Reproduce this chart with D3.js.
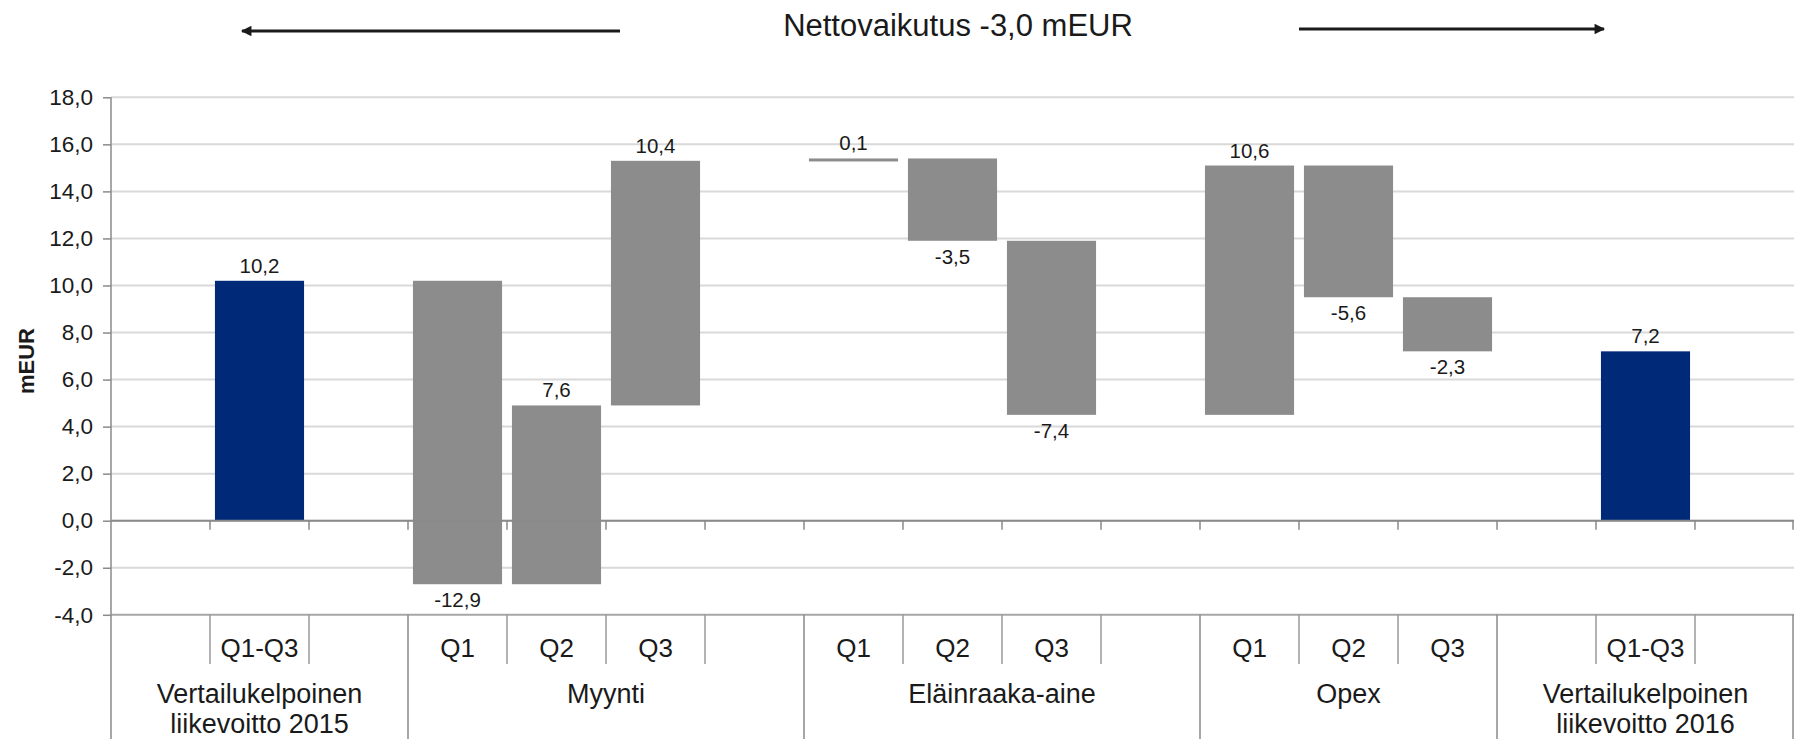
<!DOCTYPE html>
<html>
<head>
<meta charset="utf-8">
<script src="https://cdn.jsdelivr.net/npm/d3@7"></script>
<style>
  body { margin: 0; background: #ffffff; }
  text { font-family: "Liberation Sans", Arial, sans-serif; fill: #1a1a1a; }
</style>
</head>
<body>
<svg id="chart" width="1795" height="739"></svg>
<script>
// waterfall data, one entry per category slot
var groupNames = ["Vertailukelpoinen|liikevoitto 2015", "Myynti", "Eläinraaka-aine", "Opex", "Vertailukelpoinen|liikevoitto 2016"];
var quarterLabels = [
  ["", "Q1-Q3", ""],
  ["Q1", "Q2", "Q3", ""],
  ["Q1", "Q2", "Q3", ""],
  ["Q1", "Q2", "Q3"],
  ["", "Q1-Q3", ""]
];
var barValues = [null, 10.2, null, -12.9, 7.6, 10.4, null, 0.1, -3.5, -7.4, null, 10.6, -5.6, -2.3, null, 7.2, null];
var barTypes  = [null, "total", null, "delta", "delta", "delta", null, "delta", "delta", "delta", null, "delta", "delta", "delta", null, "total", null];
var yTicks = [-4, -2, 0, 2, 4, 6, 8, 10, 12, 14, 16, 18];
var title = "Nettovaikutus -3,0 mEUR";

(function() {
  var svg = d3.select("#chart");
  var plotL = 111, plotR = 1794, plotT = 97.3, plotB = 614.8;

  var fmt = function(v) { return d3.format(".1f")(v).replace("\u2212", "-").replace(".", ","); };

  // build slot keys from the groups
  var slots = [];
  quarterLabels.forEach(function(g, gi) {
    g.forEach(function(q, qi) { slots.push({ key: gi + "-" + qi, group: gi, label: q }); });
  });

  var x = d3.scaleBand().domain(slots.map(function(s) { return s.key; })).range([plotL, plotR]).padding(0);
  var y = d3.scaleLinear().domain([-4, 18]).range([plotB, plotT]);
  var bw = x.bandwidth();

  // gridlines
  svg.append("g").selectAll("line").data(yTicks).enter().append("line")
      .attr("x1", plotL).attr("x2", plotR)
      .attr("y1", function(d) { return y(d); }).attr("y2", function(d) { return y(d); })
      .attr("stroke", function(d) { return d === -4 ? "#a6a6a6" : "#d9d9d9"; })
      .attr("stroke-width", 2);

  // y axis
  var yAxis = svg.append("g")
      .attr("transform", "translate(" + plotL + ",0)")
      .call(d3.axisLeft(y).tickValues(yTicks).tickSize(8).tickPadding(10).tickFormat(fmt));
  yAxis.select(".domain").remove();
  yAxis.selectAll(".tick line").attr("stroke", "#8a8a8a").attr("stroke-width", 1.5);
  yAxis.selectAll(".tick text").style("font-size", "22.5px").style("font-family", "Liberation Sans, Arial, sans-serif").attr("fill", "#1a1a1a");

  svg.append("text")
      .attr("transform", "translate(34,361) rotate(-90)")
      .attr("text-anchor", "middle")
      .style("font-size", "22px").style("font-weight", "bold")
      .text("mEUR");

  // running total for the waterfall
  var running = 0;
  var bars = [];
  slots.forEach(function(s, i) {
    var v = barValues[i];
    if (v === null) return;
    var y0, y1;
    if (barTypes[i] === "total") { y0 = 0; y1 = v; running = v; }
    else { y0 = running; y1 = running + v; running = y1; }
    bars.push({ key: s.key, v: v, type: barTypes[i], lo: Math.min(y0, y1), hi: Math.max(y0, y1) });
  });

  svg.append("g").selectAll("rect").data(bars).enter().append("rect")
      .attr("x", function(d) { return x(d.key) + bw * 0.05; })
      .attr("width", bw * 0.9)
      .attr("y", function(d) { return y(d.hi); })
      .attr("height", function(d) { return Math.max(3, y(d.lo) - y(d.hi)); })
      .attr("fill", function(d) { return d.type === "total" ? "#002a78" : "#8c8c8c"; });

  // data labels
  svg.append("g").selectAll("text").data(bars).enter().append("text")
      .attr("x", function(d) { return x(d.key) + bw / 2; })
      .attr("y", function(d) { return d.v >= 0 ? y(d.hi) - 8 : y(d.lo) + 23; })
      .attr("text-anchor", "middle")
      .style("font-size", "20.5px")
      .text(function(d) { return fmt(d.v); });

  // category axis at zero with ticks
  svg.append("line")
      .attr("x1", plotL).attr("x2", plotR).attr("y1", y(0)).attr("y2", y(0))
      .attr("stroke", "#8a8a8a").attr("stroke-width", 2);
  svg.append("g").selectAll("line").data(slots.slice(1).concat([null])).enter().append("line")
      .attr("x1", function(d, i) { return d ? x(d.key) : plotR - 1; })
      .attr("x2", function(d, i) { return d ? x(d.key) : plotR - 1; })
      .attr("y1", y(0)).attr("y2", y(0) + 9)
      .attr("stroke", "#8a8a8a").attr("stroke-width", 1.5);

  // multi-level labels below the chart
  var groupEdges = [];
  var qDividers = [];
  var idx = 0;
  quarterLabels.forEach(function(g, gi) {
    groupEdges.push({ gi: gi, start: slots[idx].key, end: slots[idx + g.length - 1].key });
    for (var k = 1; k < g.length; k++) qDividers.push(slots[idx + k].key);
    idx += g.length;
  });

  svg.append("g").selectAll("line").data(qDividers).enter().append("line")
      .attr("x1", function(d) { return x(d); }).attr("x2", function(d) { return x(d); })
      .attr("y1", plotB).attr("y2", 664)
      .attr("stroke", "#9a9a9a").attr("stroke-width", 1.5);

  var gEdgeX = groupEdges.map(function(g) { return x(g.start); }).concat([plotR - 1]);
  svg.append("g").selectAll("line").data(gEdgeX).enter().append("line")
      .attr("x1", function(d) { return d; }).attr("x2", function(d) { return d; })
      .attr("y1", function(d, i) { return i === 0 ? plotT : plotB; }).attr("y2", 739)
      .attr("stroke", "#8a8a8a").attr("stroke-width", 1.5);

  svg.append("g").selectAll("text").data(slots.filter(function(s) { return s.label; })).enter().append("text")
      .attr("x", function(d) { return x(d.key) + bw / 2; })
      .attr("y", 657)
      .attr("text-anchor", "middle")
      .style("font-size", "26px")
      .text(function(d) { return d.label; });

  var gl = svg.append("g").selectAll("text").data(groupEdges).enter().append("text")
      .attr("text-anchor", "middle")
      .style("font-size", "27px");
  gl.each(function(g) {
    var lines = groupNames[g.gi].split("|");
    var cx = (x(g.start) + x(g.end) + bw) / 2;
    d3.select(this).selectAll("tspan").data(lines).enter().append("tspan")
        .attr("x", cx)
        .attr("y", function(d, i) { return 703 + i * 30; })
        .text(function(d) { return d; });
  });

  // title and arrows
  svg.append("text")
      .attr("x", 958).attr("y", 36)
      .attr("text-anchor", "middle")
      .style("font-size", "31px")
      .text(title);

  svg.append("defs").append("marker")
      .attr("id", "head")
      .attr("viewBox", "0 0 10 10")
      .attr("refX", 9).attr("refY", 5)
      .attr("markerWidth", 4.5).attr("markerHeight", 3.5)
      .attr("orient", "auto")
      .append("path").attr("d", "M0,0 L10,5 L0,10 z").attr("fill", "#1a1a1a");

  svg.append("line").attr("x1", 620).attr("y1", 31).attr("x2", 242).attr("y2", 31)
      .attr("stroke", "#1a1a1a").attr("stroke-width", 3).attr("marker-end", "url(#head)");
  svg.append("line").attr("x1", 1299).attr("y1", 29).attr("x2", 1604).attr("y2", 29)
      .attr("stroke", "#1a1a1a").attr("stroke-width", 3).attr("marker-end", "url(#head)");
})();
</script>
</body>
</html>
